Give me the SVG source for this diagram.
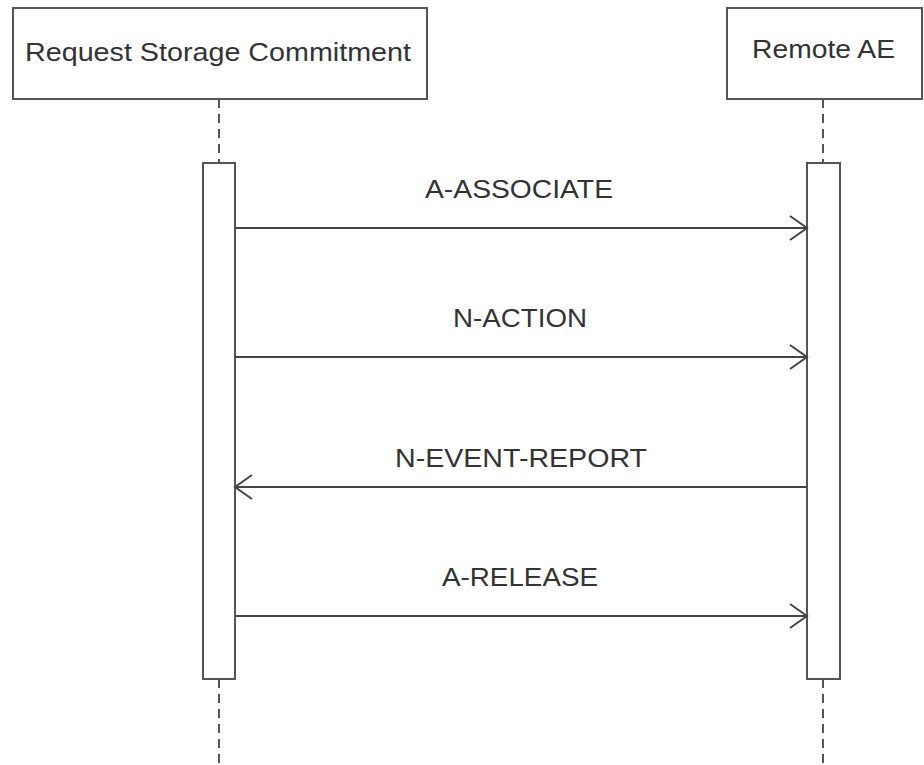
<svg xmlns="http://www.w3.org/2000/svg" width="924" height="765" viewBox="0 0 924 765">
<style>
.box{fill:#fff;stroke:#555;stroke-width:2}
.act{fill:#fff;stroke:#555;stroke-width:2}
.life{stroke:#555;stroke-width:2;stroke-dasharray:9 6;fill:none}
.msg{stroke:#444;stroke-width:2;fill:none}
.lbl{font-family:"Liberation Sans",Arial,sans-serif;font-size:26px;fill:#333;text-anchor:middle}
</style>
<defs>
<marker id="open" markerUnits="userSpaceOnUse" markerWidth="22" markerHeight="30" refX="18" refY="13" orient="auto">
<path d="M1,1 L18,13 L1,25" fill="none" stroke="#444" stroke-width="2"/>
</marker>
</defs>
<rect width="924" height="765" fill="#fff"/>
<g id="lifelines">
<line class="life" x1="219" y1="99" x2="219" y2="163"/>
<line class="life" x1="219" y1="679" x2="219" y2="765"/>
<line class="life" x1="823" y1="99" x2="823" y2="163"/>
<line class="life" x1="823" y1="679" x2="823" y2="765"/>
</g>
<g id="node-request">
<rect class="box" x="13" y="8" width="414" height="91"/>
<text class="lbl" x="218" y="61" textLength="386" lengthAdjust="spacingAndGlyphs">Request Storage Commitment</text>
</g>
<g id="node-remote">
<rect class="box" x="727" y="8" width="195" height="91"/>
<text class="lbl" x="823.5" y="58" textLength="143" lengthAdjust="spacingAndGlyphs">Remote AE</text>
</g>
<g id="activation-left">
<rect class="act" x="203" y="163" width="32" height="516"/>
</g>
<g id="activation-right">
<rect class="act" x="807" y="163" width="33" height="516"/>
</g>
<g id="connectors">
<line class="msg" x1="235" y1="228" x2="807" y2="228" marker-end="url(#open)"/>
<line class="msg" x1="235" y1="357" x2="807" y2="357" marker-end="url(#open)"/>
<line class="msg" x1="807" y1="487" x2="235" y2="487" marker-end="url(#open)"/>
<line class="msg" x1="235" y1="616" x2="807" y2="616" marker-end="url(#open)"/>
<text class="lbl" x="519" y="198" textLength="188" lengthAdjust="spacingAndGlyphs">A-ASSOCIATE</text>
<text class="lbl" x="520" y="327" textLength="134" lengthAdjust="spacingAndGlyphs">N-ACTION</text>
<text class="lbl" x="521" y="467" textLength="252" lengthAdjust="spacingAndGlyphs">N-EVENT-REPORT</text>
<text class="lbl" x="520" y="586" textLength="156" lengthAdjust="spacingAndGlyphs">A-RELEASE</text>
</g>
</svg>
